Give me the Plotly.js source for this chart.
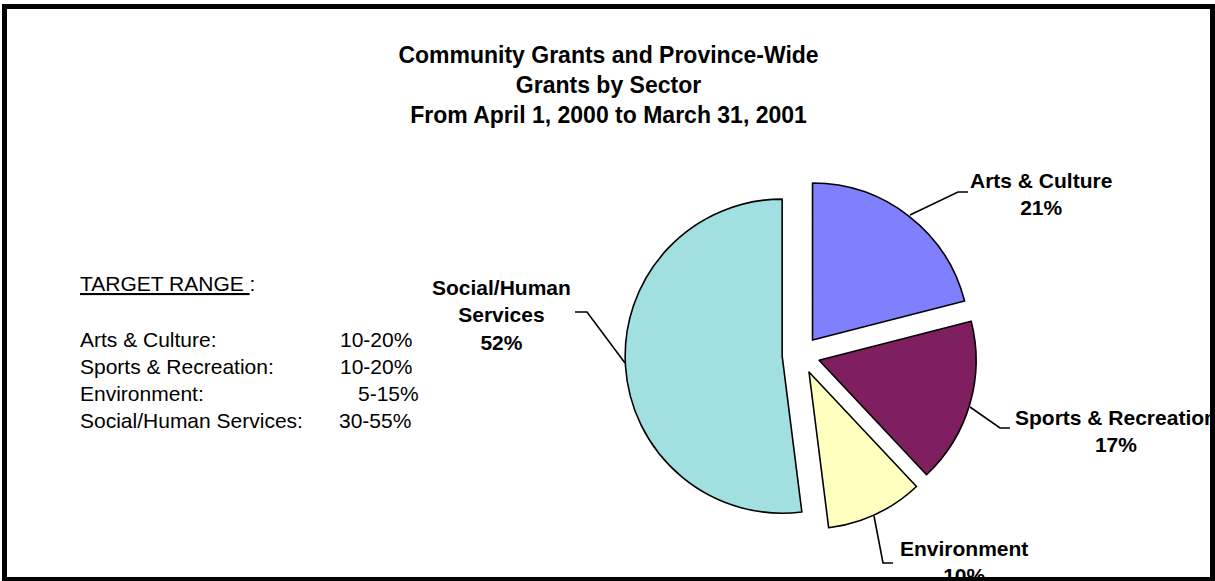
<!DOCTYPE html>
<html>
<head>
<meta charset="utf-8">
<script src="https://cdn.plot.ly/plotly-3.0.1.min.js"></script>
<style>
  html, body { margin: 0; padding: 0; background: #ffffff; width: 1215px; height: 581px; overflow: hidden; }
  #frame { position: absolute; left: 2px; top: 4px; width: 1213px; height: 577px; background: #000000; }
  #chart { position: absolute; left: 5px; top: 5px; width: 1203px; height: 568px; background: #ffffff; overflow: hidden; }
</style>
</head>
<body>
<div id="frame"><div id="chart"></div></div>
<script>
// ---- data ----
const sectors = ["Arts & Culture", "Sports & Recreation", "Environment", "Social/Human Services"];
const shares = [21, 17, 10, 52];
const sliceLabelText = ["Arts & Culture", "Sports & Recreation", "Environment", "Social/Human<br>Services"];
const sliceColors = ["#8080FF", "#7F1F5F", "#FFFFC0", "#A2DFE0"];

const titleLines = ["Community Grants and Province-Wide", "Grants by Sector", "From April 1, 2000 to March 31, 2001"];
const targetHeading = "TARGET RANGE ";
const targetLabels = ["Arts & Culture:", "Sports & Recreation:", "Environment:", "Social/Human Services:"];
const targetRanges = ["10-20%", "10-20%", "5-15%", "30-55%"];

// ---- layout helpers (page pixel -> paper) ----
const W = 1203, H = 568, OX = 7, OY = 9;
const px = x => (x - OX) / W;
const py = y => 1 - (y - OY) / H;
const FONT = "Liberation Sans, Arial, Helvetica, sans-serif";

const trace = {
  type: "pie",
  labels: sectors,
  values: shares,
  sort: false,
  direction: "clockwise",
  rotation: 0,
  pull: [0.12, 0.12, 0.12, 0.12],
  marker: { colors: sliceColors, line: { color: "#000000", width: 1.6 } },
  textinfo: "none",
  hoverinfo: "label+percent",
  domain: { x: [0.5138, 0.8062], y: [0.0813, 0.7005] }
};

// label positions for the slice captions (page px)
const labelPos = [[1041, 194], [1116, 431], [964, 562], [501, 315]];
// leader lines (page px)
const leaders = [
  [[910, 215], [958, 192], [968, 192]],
  [[970, 407], [1000, 428], [1010, 428]],
  [[874, 516], [883, 563], [893, 563]],
  [[625, 363], [587, 312], [575, 312]]
];

const annotations = [];
sectors.forEach((s, i) => {
  annotations.push({
    xref: "paper", yref: "paper",
    x: px(labelPos[i][0]), y: py(labelPos[i][1]),
    xanchor: "center", yanchor: "middle", showarrow: false,
    text: sliceLabelText[i] + "<br>" + shares[i] + "%",
    align: "center",
    font: { family: FONT, size: 21, color: "#000000", weight: "bold" }
  });
});

annotations.push({
  xref: "paper", yref: "paper", x: px(78), y: py(283),
  xanchor: "left", yanchor: "middle", showarrow: false,
  text: "<u>" + targetHeading + "</u>:",
  font: { family: FONT, size: 21, color: "#000000" }
});
const rangeX = [338, 338, 356, 337];
targetLabels.forEach((t, i) => {
  const y = 339 + i * 27;
  annotations.push({
    xref: "paper", yref: "paper", x: px(78), y: py(y),
    xanchor: "left", yanchor: "middle", showarrow: false,
    text: t, font: { family: FONT, size: 21, color: "#000000" }
  });
  annotations.push({
    xref: "paper", yref: "paper", x: px(rangeX[i]), y: py(y),
    xanchor: "left", yanchor: "middle", showarrow: false,
    text: targetRanges[i], font: { family: FONT, size: 21, color: "#000000" }
  });
});

const shapes = leaders.map(pts => ({
  type: "path", xref: "paper", yref: "paper",
  path: pts.map((p, k) => (k ? "L" : "M") + px(p[0]) + "," + py(p[1])).join(" "),
  line: { color: "#000000", width: 1.6 }
}));

const layout = {
  width: W, height: H,
  margin: { l: 0, r: 0, t: 0, b: 0 },
  paper_bgcolor: "#ffffff",
  showlegend: false,
  title: {
    text: titleLines.join("<br>"),
    x: 0.5, xanchor: "center",
    y: 1 - 54 / H, yanchor: "top", yref: "container",
    font: { family: FONT, size: 23, color: "#000000", weight: "bold" }
  },
  annotations: annotations,
  shapes: shapes
};

Plotly.newPlot("chart", [trace], layout, { displayModeBar: false, staticPlot: true });
</script>
</body>
</html>
